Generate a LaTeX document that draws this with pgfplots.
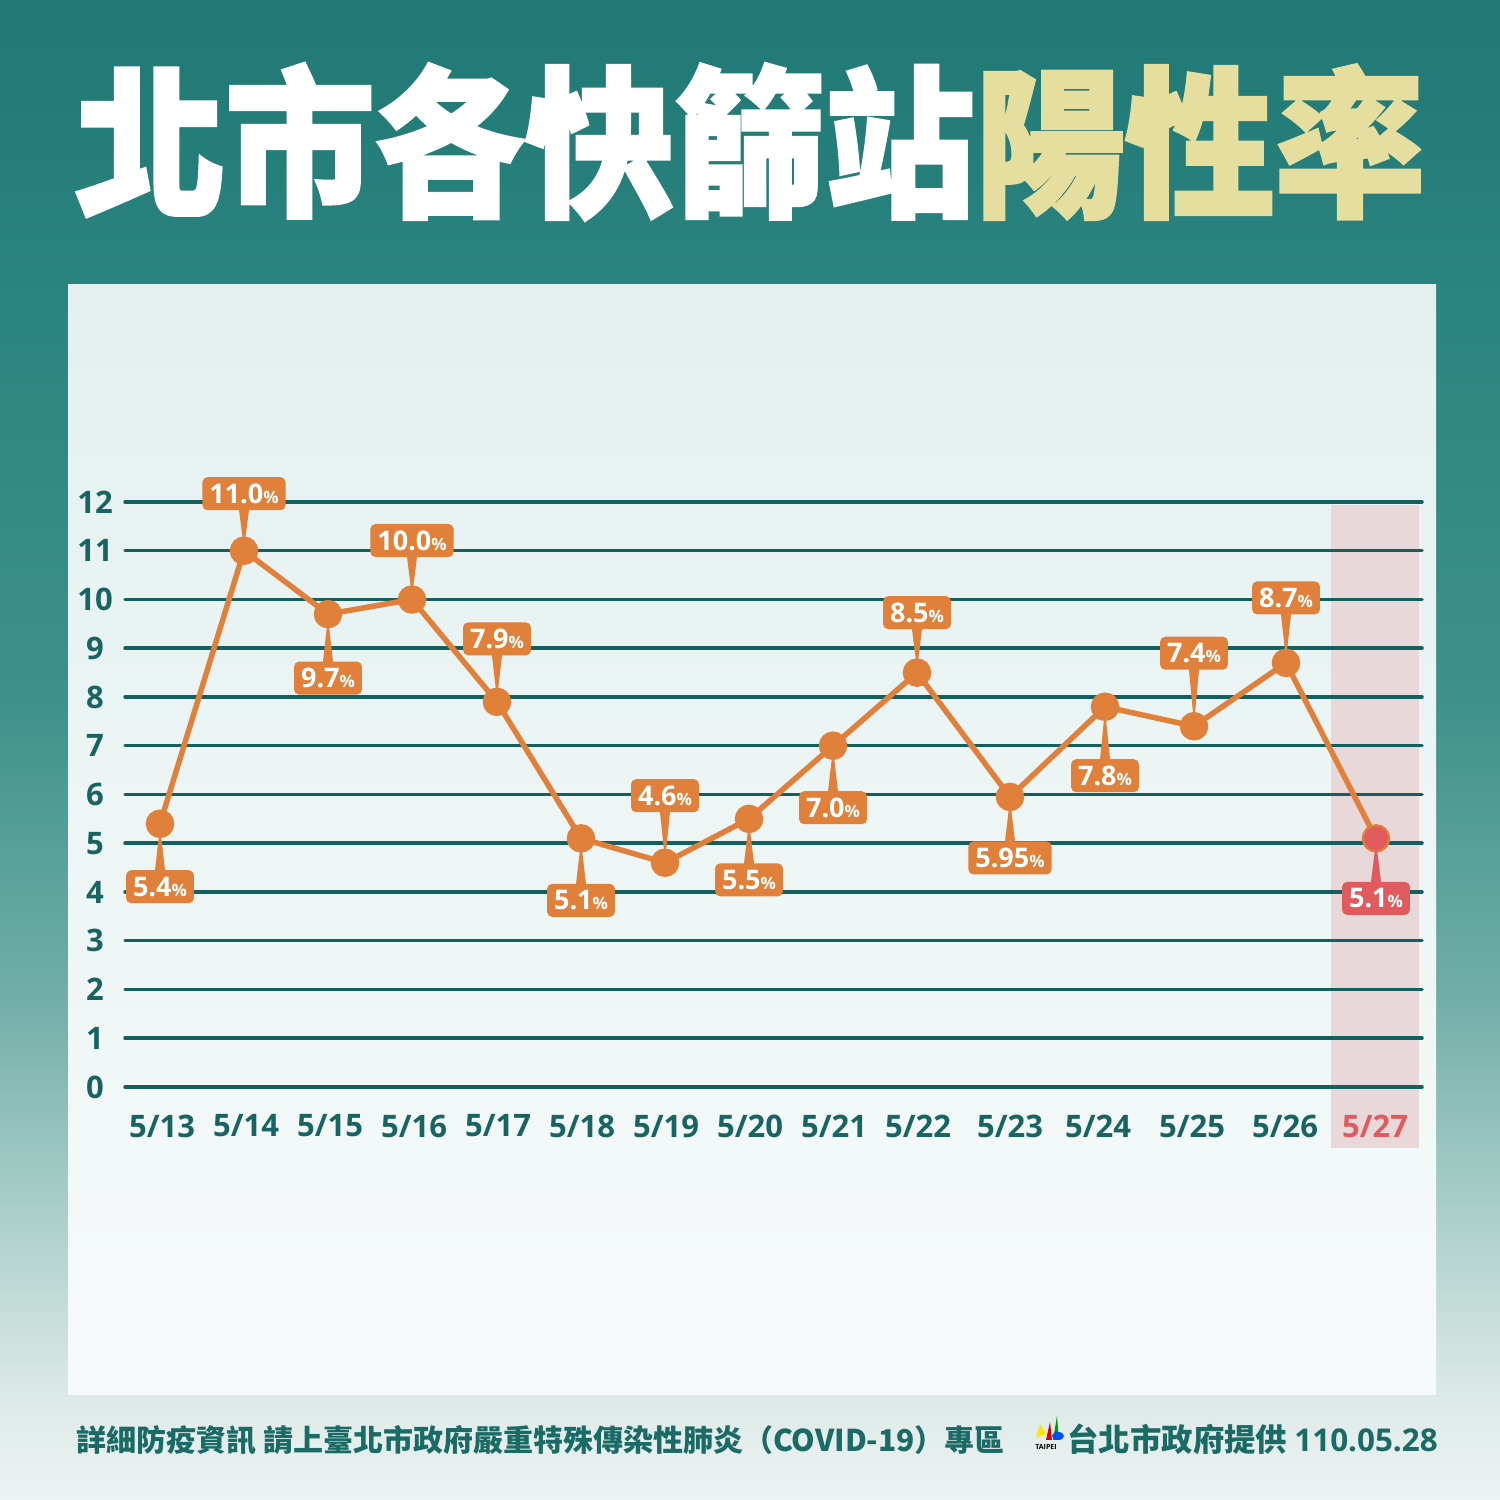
\documentclass[border=0pt]{standalone}
\usepackage{pgfplots}
\pgfplotsset{compat=1.18}
\usepackage{pgfplotstable}
\usepackage{fontspec}
\setmainfont{Open Sans}
\newfontfamily\cjk{Noto Sans CJK TC}
\newfontfamily\ttl{Noto Sans CJK TC}[BoldFeatures={FakeBold=2}]
\usetikzlibrary{shapes.callouts}

\definecolor{gridc}{HTML}{14605E}
\definecolor{tickc}{HTML}{176462}
\definecolor{orc}{HTML}{E0803A}
\definecolor{redc}{HTML}{E05A5E}
\definecolor{hlc}{HTML}{E9D8DA}
\definecolor{ttly}{HTML}{E6DE9F}
\definecolor{foot}{HTML}{1A6A66}
\definecolor{c0}{HTML}{217875}
\definecolor{c1}{HTML}{2A847F}
\definecolor{c2}{HTML}{3E918B}
\definecolor{c3}{HTML}{72AEA8}
\definecolor{c4}{HTML}{A8CDC8}
\definecolor{c5}{HTML}{DDEAE8}
\definecolor{c6}{HTML}{EEF3F3}
\definecolor{pantop}{HTML}{E4F0F0}
\definecolor{panbot}{HTML}{F7FAFA}

\pgfdeclareverticalshading{bgshade}{100bp}{color(0bp)=(c6); color(25bp)=(c6);
  color(28.3bp)=(c5); color(35bp)=(c4); color(41.7bp)=(c3); color(51.7bp)=(c2);
  color(65bp)=(c1); color(75bp)=(c0); color(100bp)=(c0)}

% positive rate per day; x is the date's place across the chart
% p: where the label box sits, in px from the point (+ above, - below)
\pgfplotstableread{
x    y     lab   p
160  5.4   5.4   -63
244  11.0  11.0  57
328  9.7   9.7   -64
412  10.0  10.0  59
497  7.9   7.9   63
581  5.1   5.1   -62
665  4.6   4.6   67
749  5.5   5.5   -61
833  7.0   7.0   -62
917  8.5   8.5   60
1010 5.95  5.95  -61
1105 7.8   7.8   -69
1194 7.4   7.4   73
1286 8.7   8.7   65
1376 5.1   5.1   -60
}\rates

\tikzset{rate box/.style={rectangle callout, text=white,
    font=\bfseries\fontsize{13.5}{13.5}\selectfont, rounded corners=2.5pt,
    anchor=center, callout pointer width=5pt,
    inner xsep=3.5pt, inner ysep=0pt, minimum height=16.5pt}}

\begin{document}
\begin{tikzpicture}[x=0.5pt,y=0.5pt]
\useasboundingbox (0,0) rectangle (1500,1500);
\fill[shading=bgshade] (0,0) rectangle (1500,1500);
\fill[top color=pantop,bottom color=panbot] (68,105) rectangle (1436,1215);
\fill[hlc] (1331,352) rectangle (1419,995);

% title
\node[anchor=base,inner sep=0] at (750,1296)
  {\scalebox{1}[1.08]{\ttl\bfseries\fontsize{75}{75}\selectfont\textcolor{white}{北市各快篩站}\textcolor{ttly}{陽性率}}};

\begin{axis}[
  at={(62.5pt,206.5pt)}, anchor=south west,
  scale only axis, width=648.5pt, height=292.5pt,
  xmin=125, xmax=1422, ymin=0, ymax=12,
  clip=false,
  axis line style={draw=none},
  major tick length=0pt, tick style={draw=none},
  ytick={0,1,...,12},
  xtick={162,246,330,414,498,582,666,750,834,918,1010,1098,1192,1285,1375},
  xticklabels={5/13,5/14,5/15,5/16,5/17,5/18,5/19,5/20,5/21,5/22,5/23,5/24,5/25,5/26,\textcolor{redc}{5/27}},
  ymajorgrids,
  grid style={line width=1.75pt, color=gridc, line cap=round},
  /pgf/number format/assume math mode=true,
  tick label style={font=\bfseries\fontsize{15.5}{15.5}\selectfont, text=tickc},
  x tick label style={anchor=center, yshift=-19.5pt},
  y tick label style={anchor=center, xshift=-15pt},
]
\addplot[color=orc, line width=2.75pt, mark=*, mark size=5.75pt,
  mark options={fill=orc, draw=none}] table[x=x,y=y]{\rates};

\addplot[draw=none, mark=none, restrict x to domain=0:1350,
  point meta=explicit symbolic,
  visualization depends on={\thisrow{p} \as \lblpos},
  nodes near coords={\pgfplotspointmeta{\fontsize{8.5}{8.5}\selectfont\%}},
  every node near coord/.append style={rate box, fill=orc,
    yshift=\lblpos*0.5pt,
    callout relative pointer={({sign(\lblpos)*(-90)}:{(abs(\lblpos)-19)*0.5pt})}}
] table[x=x,y=y,meta=lab]{\rates};

\addplot[color=redc, only marks, mark=*, mark size=5.75pt,
  mark options={fill=redc, draw=none},
  point meta=explicit symbolic,
  nodes near coords={\pgfplotspointmeta{\fontsize{8.5}{8.5}\selectfont\%}},
  every node near coord/.append style={rate box, fill=redc,
    yshift=-30pt, callout relative pointer={(90:20.5pt)}}
] coordinates {(1376,5.1) [5.1]};
\end{axis}

% footer
\node[anchor=base west,inner sep=0,text=foot] at (76,48)
  {\cjk\bfseries\fontsize{15}{15}\selectfont 詳細防疫資訊\ 請上臺北市政府嚴重特殊傳染性肺炎（COVID-19）專區};
% small city logo
\fill[yellow!90!orange] (1036,62) -- (1040,76) -- (1046,66) -- cycle;
\fill[red!85!black] (1046,60) -- (1050,78) -- (1052,60) -- cycle;
\fill[green!60!black] (1053,60) -- (1057,84) -- (1059,60) -- cycle;
\fill[blue!70!cyan] (1058,64) ellipse (6 and 4);
\node[anchor=base,inner sep=0,font=\bfseries\fontsize{3.5}{4}\selectfont] at (1046,50) {TAIPEI};
\node[anchor=base west,inner sep=0,text=foot] at (1067,48)
  {\cjk\bfseries\fontsize{15.7}{15.7}\selectfont 台北市政府提供\ \fontspec{Open Sans}\bfseries 110.05.28};
\end{tikzpicture}
\end{document}
